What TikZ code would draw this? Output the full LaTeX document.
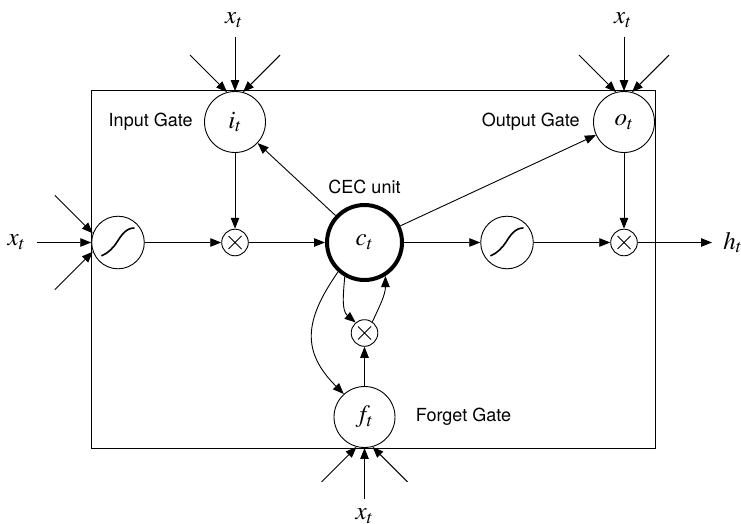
\documentclass[tikz,border=0pt]{standalone}
\usepackage{mathptmx}
\usepackage{fontspec}
\setmainfont{TeX Gyre Heros}
\usepackage{tikz}
\usetikzlibrary{positioning,arrows.meta,calc}

\begin{document}
\begin{tikzpicture}[x=1pt,y=1pt,line width=0.9pt,>={Triangle[length=11pt,width=8.5pt]},
gate/.style={circle,draw,fill=white,minimum size=61pt,inner sep=0pt,font=\fontsize{25}{30}\selectfont},
cec/.style={gate,line width=4pt,minimum size=75pt},
mult/.style={circle,draw,fill=white,minimum size=26.6pt,inner sep=0pt,path picture={\draw[line width=0.9pt,shift={(path picture bounding box.center)}] (-6.5pt,-6.5pt) -- (6.5pt,6.5pt) (-6.5pt,6.5pt) -- (6.5pt,-6.5pt);}},
squash/.style={circle,draw,fill=white,minimum size=52.6pt,inner sep=0pt,path picture={\draw[line width=1.6pt,line cap=round,shift={(path picture bounding box.center)}] (-16.3pt,-13.2pt) .. controls (-10pt,-11pt) and (-4pt,-4.5pt) .. (-0.6pt,1pt) .. controls (2.8pt,6.5pt) and (8pt,14.5pt) .. (16pt,14.5pt);}},
lbl/.style={inner sep=0pt,font=\fontsize{18}{21}\selectfont},
xin/.style={inner xsep=11pt,inner ysep=9pt,font=\fontsize{25}{30}\selectfont}]

\useasboundingbox (0,0) rectangle (741,-524);
\node[draw,minimum width=564pt,minimum height=358pt,inner sep=0pt] (cell) at (373,-269) {};

\node[cec] (c) at (364.5,-242.5) {$c_t$}; \node[gate] (in) at (235,-122) {$i_t$}; \node[gate] (out) at (624,-122) {$o_t$}; \node[gate] (f) at (364.5,-417) {$f_t$};
\node[squash] (s1) at (118,-242.5) {}; \node[squash] (s2) at (507,-242.5) {};
\node[mult] (m1) at (in |- c) {}; \node[mult] (m2) at (out |- c) {}; \node[mult] (m3) at (364.5,-333) {};

\node[lbl, left=11pt of in] (inl) {Input Gate}; \node[lbl, left=13pt of out] (outl) {Output Gate}; \node[lbl, right=20pt of f] (fl) {Forget Gate}; \node[lbl, above=9pt of c] (cl) {CEC unit};

\node[xin] (xl) at (16.5,-242.5) {$x_t$}; \node[xin] (xi) at (234,-20) {$x_t$}; \node[xin] (xo) at (623,-20) {$x_t$}; \node[xin] (xf) at (364.5,-516) {$x_t$}; \node[xin,anchor=west] (h) at (712,-242.5) {$h_t$};

\coordinate (la) at ($(s1.160)+(-38,38)$); \coordinate (lb) at ($(s1.200)+(-38,-38)$);
\coordinate (ia) at ($(in.105)+(-37,37)$); \coordinate (ib) at ($(in.75)+(37,37)$);
\coordinate (oa) at ($(out.105)+(-37,37)$); \coordinate (ob) at ($(out.75)+(37,37)$);
\coordinate (fa) at ($(f.255)+(-35,-35)$); \coordinate (fb) at ($(f.285)+(35,-35)$);

\draw[->] (xl) -- (s1); \draw[->] (la) -- (s1.160); \draw[->] (lb) -- (s1.200);
\draw[->] (xi.south -| in) -- (in); \draw[->] (ia) -- (in.105); \draw[->] (ib) -- (in.75);
\draw[->] (xo.south -| out) -- (out); \draw[->] (oa) -- (out.105); \draw[->] (ob) -- (out.75);
\draw[->] (xf) -- (f); \draw[->] (fa) -- (f.255); \draw[->] (fb) -- (f.285);

\draw[->] (s1) -- (m1); \draw[->] (m1) -- (c); \draw[->] (c) -- (s2); \draw[->] (s2) -- (m2); \draw[->] (m2) -- (h);
\draw[->] (in) -- (m1); \draw[->] (out) -- (m2); \draw[->] (c) -- (in); \draw[->] (c) -- (out);
\draw[->] (f) -- (m3);
\draw[->] (c.228) to[out=235,in=135,looseness=1.25] (f.132);
\draw[->] (c.240) to[out=265,in=140] (m3.130);
\draw[->] (m3.55) to[out=65,in=270] (c.302);
\end{tikzpicture}
\end{document}
